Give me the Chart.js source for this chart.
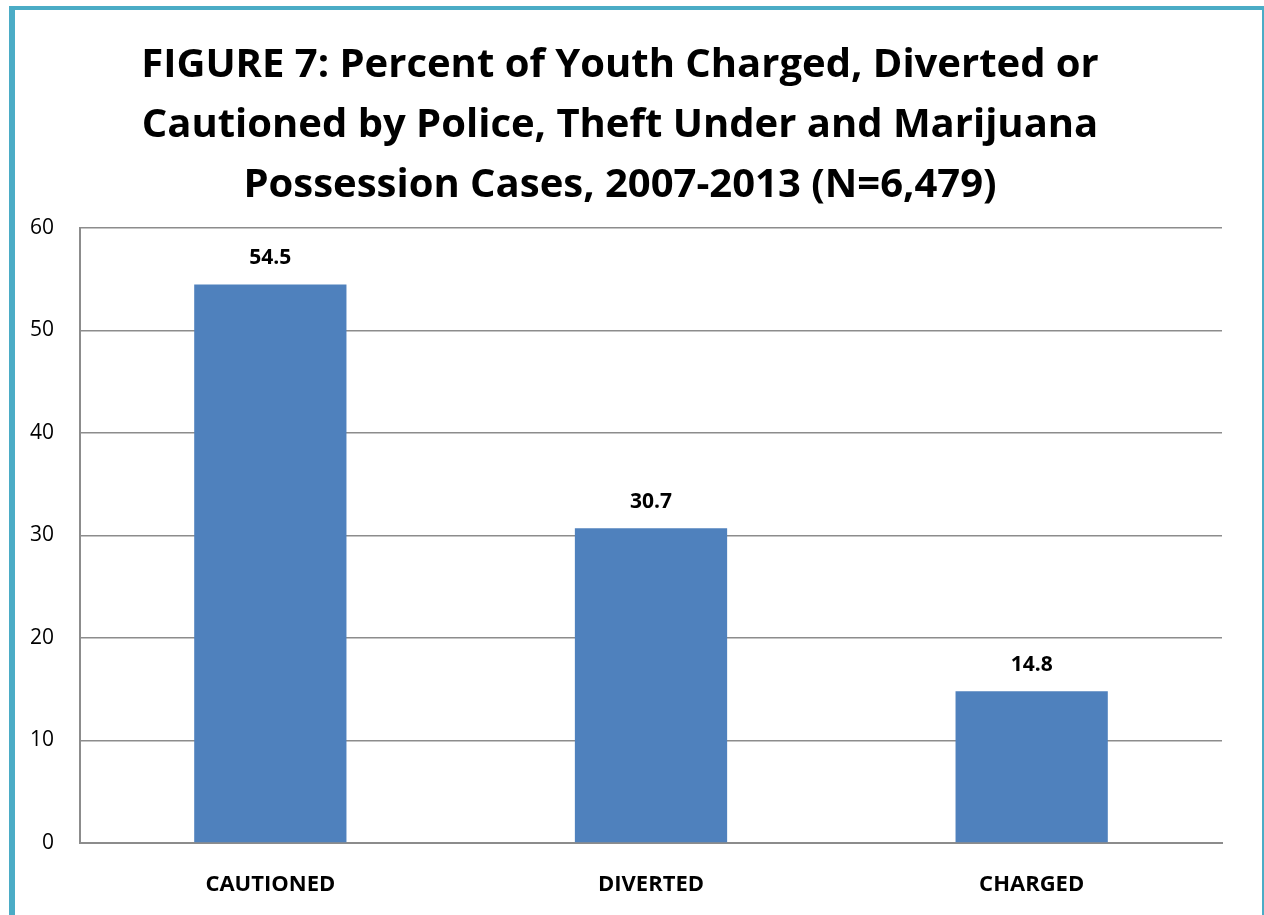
<!DOCTYPE html>
<html>
<head>
<meta charset="utf-8">
<script src="https://cdn.jsdelivr.net/npm/chart.js@4"></script>
<style>
  html, body { margin: 0; padding: 0; background: #fff; }
  #wrap { position: relative; width: 1264px; height: 915px; }
  #frame {
    position: absolute; left: 9px; top: 6px; right: 0; bottom: -10px;
    border-left: 6px solid #4BACC6; border-top: 4px solid #4BACC6; border-right: 2px solid #4BACC6;
    pointer-events: none;
  }
</style>
</head>
<body>
<div id="wrap">
  <canvas id="myChart" width="1264" height="915"></canvas>
  <div id="frame"></div>
</div>
<script>
const categories = ["CAUTIONED", "DIVERTED", "CHARGED"];
const percents = [54.5, 30.7, 14.8];
const titleLines = [
    "FIGURE 7: Percent of Youth Charged, Diverted or",
    "Cautioned by Police, Theft Under and Marijuana",
    "Possession Cases, 2007-2013 (N=6,479)"
];

// values above bars
const barValues = {
    id: 'barValues',
    afterDatasetsDraw(chart) {
        const c = chart.ctx;
        c.save();
        c.font = 'bold 21px "Open Sans"';
        c.fillStyle = '#000';
        c.textAlign = 'center';
        c.textBaseline = 'middle';
        chart.getDatasetMeta(0).data.forEach((bar, i) => {
            c.fillText(percents[i].toFixed(1), bar.x, bar.y - 26);
        });
        c.restore();
    }
};

const ctx = document.getElementById('myChart').getContext('2d');
const myChart = new Chart(ctx, {
    type: 'bar',
    data: {
        labels: categories,
        datasets: [{
            data: percents,
            backgroundColor: '#4F81BD',
            categoryPercentage: 1,
            barPercentage: 0.4
        }]
    },
    options: {
        responsive: false,
        animation: false,
        layout: { padding: { left: 18, right: 42, top: 0, bottom: 0 } },
        plugins: {
            legend: { display: false },
            tooltip: { enabled: false },
            title: {
                display: true,
                text: titleLines,
                color: '#000',
                font: { family: '"Open Sans"', size: 40, weight: 'bold', lineHeight: 1.5 },
                padding: { top: 36, bottom: 12 }
            }
        },
        scales: {
            x: {
                grid: { display: false, drawTicks: false },
                border: { color: '#8c8c8c', width: 2 },
                ticks: { color: '#000', padding: 29, font: { family: '"Open Sans"', size: 22, weight: 'bold' } },
                afterFit(scale) { scale.height = 72; }
            },
            y: {
                min: 0,
                max: 60,
                ticks: { stepSize: 10, color: '#000', padding: 26, font: { family: '"Open Sans"', size: 21 } },
                grid: { color: '#8c8c8c', lineWidth: 1.5, drawTicks: false },
                border: { color: '#8c8c8c', width: 2 },
                afterFit(scale) { scale.width = 62; }
            }
        }
    },
    plugins: [barValues]
});
</script>
</body>
</html>
